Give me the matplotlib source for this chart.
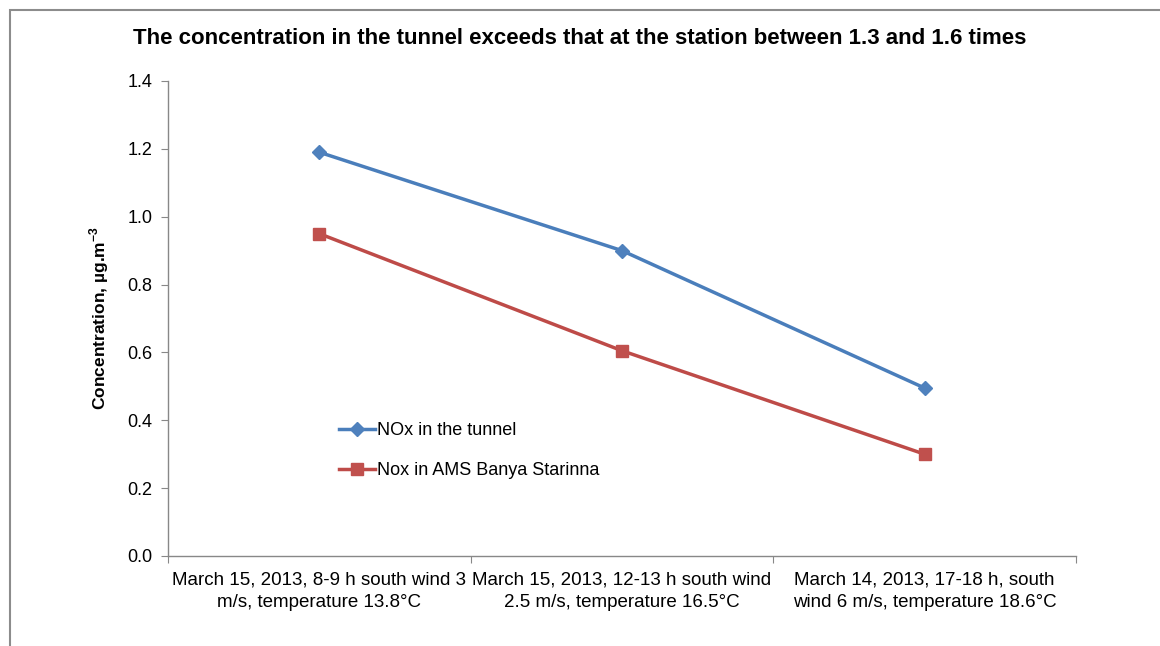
import matplotlib
matplotlib.use("Agg")
import matplotlib.pyplot as plt
from matplotlib.patches import Rectangle

plt.rcParams['font.family'] = ['Liberation Sans', 'DejaVu Sans']
plt.rcParams['mathtext.fontset'] = 'custom'
plt.rcParams['mathtext.rm'] = 'Liberation Sans'
plt.rcParams['mathtext.bf'] = 'Liberation Sans:bold'

categories = [
    "March 15, 2013, 8-9 h south wind 3\nm/s, temperature 13.8°C",
    "March 15, 2013, 12-13 h south wind\n2.5 m/s, temperature 16.5°C",
    "March 14, 2013, 17-18 h, south\nwind 6 m/s, temperature 18.6°C",
]
nox_tunnel = [1.19, 0.90, 0.495]
nox_station = [0.95, 0.605, 0.30]
series_names = ["NOx in the tunnel", "Nox in AMS Banya Starinna"]
yticks = [0.0, 0.2, 0.4, 0.6, 0.8, 1.0, 1.2, 1.4]

fig = plt.figure(figsize=(11.6, 6.46), dpi=100)
ax = fig.add_axes([168/1160, 1-556/646, (1076-168)/1160, (556-81)/646])

x = list(range(len(categories)))
ax.plot(x, nox_tunnel, color='#4A7EBB', lw=2.5, marker='D', ms=7,
        markerfacecolor='#4F81BD', markeredgecolor='#4F81BD', label=series_names[0])
ax.plot(x, nox_station, color='#BE4B48', lw=2.5, marker='s', ms=8,
        markerfacecolor='#C0504D', markeredgecolor='#C0504D', label=series_names[1])

ax.set_xlim(-0.5, len(categories) - 0.5)
ax.set_ylim(0, 1.4)
ax.set_yticks(yticks)
ax.set_yticklabels([f"{v:.1f}" for v in yticks], fontsize=13)

ax.set_xticks([i - 0.5 for i in range(len(categories) + 1)])
ax.set_xticklabels([])
ax.set_xticks(x, minor=True)
ax.set_xticklabels(categories, minor=True, fontsize=13.5, linespacing=1.45)
ax.tick_params(axis='x', which='minor', length=0, pad=11)
ax.tick_params(axis='x', which='major', length=5, color='#888888', direction='out')
ax.tick_params(axis='y', length=5, color='#888888', direction='out', pad=6)

for s in ['top', 'right']:
    ax.spines[s].set_visible(False)
for s in ['left', 'bottom']:
    ax.spines[s].set_color('#888888')
    ax.spines[s].set_linewidth(1.0)

ax.set_ylabel(r"Concentration, µg.m$^{\mathbf{-3}}$", fontsize=12.5, fontweight='bold', labelpad=12)

fig.text(0.5, 1-38/646, "The concentration in the tunnel exceeds that at the station between 1.3 and 1.6 times",
         ha='center', va='center', fontsize=16, fontweight='bold')

ax.legend(loc='upper left', bbox_to_anchor=((330-168)/908, (556-413)/475), frameon=False,
          fontsize=13, labelspacing=1.3, handlelength=2.0, handletextpad=0.1, borderpad=0)

fig.patches.append(Rectangle((10/1160, -0.1), 1.2, 1-10/646+0.1, transform=fig.transFigure,
                             fill=False, edgecolor='#8C8C8C', linewidth=1.5))

fig.savefig("out.png", dpi=100)
